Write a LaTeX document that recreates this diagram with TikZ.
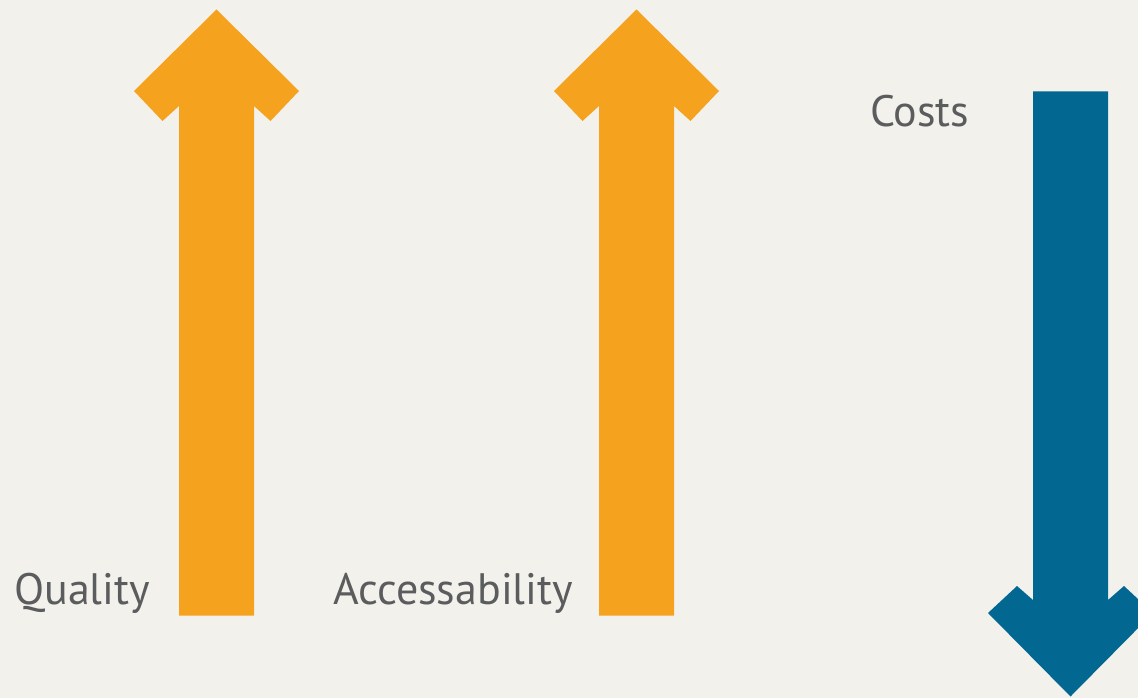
\documentclass[tikz,border=0pt]{standalone}
\usepackage{fontspec}
\setmainfont{PT Sans}
\definecolor{bgpaper}{HTML}{F2F1EC}
\definecolor{arrorange}{HTML}{F5A31E}
\definecolor{arrblue}{HTML}{026892}
\definecolor{labelgray}{HTML}{5B5C5E}
\tikzset{
  x=1pt, y=-1pt,
  lbl/.style={anchor=base west, inner sep=0pt, text=labelgray, font=\fontsize{44}{48}\selectfont},
  uparrow/.pic={
    \fill[pic actions] (0,0) -- (82.5,81.5) -- (54,111.5) -- (37.5,96.5) -- (37.5,606) -- (-37.5,606) -- (-37.5,96.5) -- (-54,111.5) -- (-82.5,81.5) -- cycle;
  },
  downarrow/.pic={
    \fill[pic actions] (0,0) -- (82.5,-83.5) -- (53.5,-110.5) -- (37.5,-96.5) -- (37.5,-605) -- (-37.5,-605) -- (-37.5,-96.5) -- (-53.5,-110.5) -- (-82.5,-83.5) -- cycle;
  }
}
\begin{document}
\begin{tikzpicture}
\fill[bgpaper] (0,0) rectangle (1138,698);
\useasboundingbox (0,0) rectangle (1138,698);
\begin{scope}
\clip (0,0) rectangle (1138,698);
\pic[fill=arrorange] (arrowq) at (216.5,9.5) {uparrow};
\pic[fill=arrorange] (arrowa) at (636.5,9.5) {uparrow};
\pic[fill=arrblue] (arrowc) at (1070.5,696.5) {downarrow};
\end{scope}
\node[lbl] (quality) at (14,604.5) {Quality};
\node[lbl] (access) at (333,604.5) {Accessability};
\node[lbl] (costs) at (870,126.5) {Costs};
\end{tikzpicture}
\end{document}
